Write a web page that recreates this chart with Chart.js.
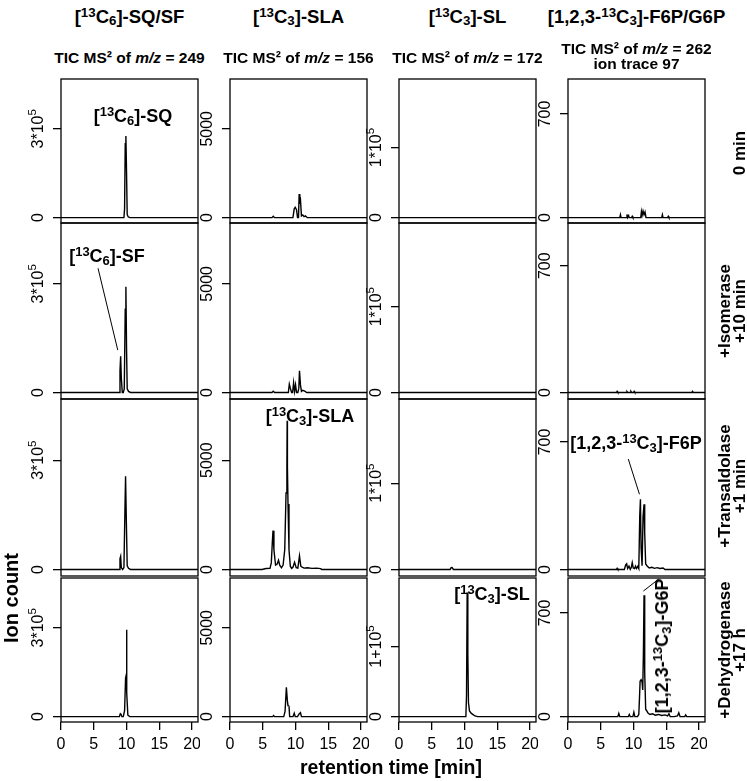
<!DOCTYPE html>
<html>
<head>
<meta charset="utf-8">
<script src="https://cdn.jsdelivr.net/npm/chart.js@4.4.1/dist/chart.umd.min.js"></script>
<style>
body { margin: 0; background: #fff; }
#fig { position: relative; width: 747px; height: 781px; overflow: hidden; font-family: "Liberation Sans", Arial, sans-serif; color: #000; }
#fig canvas { position: absolute; }
.lbl { position: absolute; white-space: nowrap; font-weight: bold; transform: translate(-50%, -50%); line-height: 1; }
.rot { transform: translate(-50%, -50%) rotate(-90deg); text-align: center; }
.lbl sup, .lbl sub { font-size: 72%; line-height: 0; }
.lbl sup { vertical-align: 0.45em; }
.lbl sub { vertical-align: -0.2em; }
</style>
</head>
<body>
<div id="fig"></div>
<script>
// ---- DATA (retention time in min, ion count) ----
const xTicks = [0, 5, 10, 15, 20];
const colTitles = ['[<sup>13</sup>C<sub>6</sub>]-SQ/SF', '[<sup>13</sup>C<sub>3</sub>]-SLA', '[<sup>13</sup>C<sub>3</sub>]-SL', '[1,2,3-<sup>13</sup>C<sub>3</sub>]-F6P/G6P'];
const colSub = ['TIC MS² of <i>m/z</i> = 249', 'TIC MS² of <i>m/z</i> = 156', 'TIC MS² of <i>m/z</i> = 172', 'TIC MS² of <i>m/z</i> = 262<br>ion trace 97'];
const rowLabels = ['0 min', '+Isomerase<br>+10 min', '+Transaldolase<br>+1 min', '+Dehydrogenase<br>+17 h'];
const yMax = [4.5e5, 7500, 1.9e5, 900];
const yTickVal = [3e5, 5000, 1e5, 700];
const yTickText = ['3*10^5', '5000', '1*10^5', '700'];
const yTickTextLast = ['3*10^5', '5000', '1+10^5', '700'];

// column 1: [13C6]-SQ/SF
const t11 = [0, 9.6, 9.7, 9.8, 9.9, 10.0, 10.1, 10.25, 10.5, 20.9];
const i11 = [0, 0, 0.3e5, 2.5e5, 2.76e5, 1.5e5, 0.1e5, 0.03e5, 0, 0];
const t21 = [0, 8.9, 9.0, 9.1, 9.2, 9.35, 9.5, 9.65, 9.8, 9.9, 10.0, 10.1, 10.3, 10.6, 20.9];
const i21 = [0, 0, 0.6e5, 1.0e5, 0.4e5, 0, 0, 0.1e5, 2.3e5, 2.92e5, 1.2e5, 0.1e5, 0.03e5, 0, 0];
const t31 = [0, 8.9, 9.0, 9.1, 9.2, 9.4, 9.6, 9.75, 9.85, 9.95, 10.1, 10.3, 10.6, 20.9];
const i31 = [0, 0, 0.3e5, 0.36e5, 0.05e5, 0, 0.05e5, 1.6e5, 2.56e5, 1.5e5, 0.1e5, 0.03e5, 0, 0];
const t41 = [0, 8.9, 9.05, 9.15, 9.3, 9.5, 9.7, 9.85, 9.95, 10.0, 10.05, 10.2, 10.5, 20.9];
const i41 = [0, 0, 0.1e5, 0.08e5, 0, 0, 0.2e5, 1.3e5, 1.4e5, 2.93e5, 0.8e5, 0.05e5, 0, 0];

// column 2: [13C3]-SLA
const t12 = [0, 6.4, 6.6, 6.8, 9.6, 9.8, 9.95, 10.15, 10.3, 10.45, 10.55, 10.65, 10.75, 10.9, 11.1, 11.3, 11.5, 11.8, 20.9];
const i12 = [0, 0, 80, 0, 0, 500, 580, 450, 0, 0, 1330, 900, 1000, 100, 150, 60, 100, 0, 0];
const t22 = [0, 6.4, 6.6, 6.8, 8.9, 9.05, 9.2, 9.4, 9.55, 9.7, 9.85, 10.0, 10.15, 10.35, 10.5, 10.6, 10.75, 10.9, 11.1, 11.4, 11.7, 20.9];
const i22 = [0, 0, 60, 0, 0, 380, 200, 0, 0, 450, 50, 350, 0, 0, 200, 1000, 350, 50, 100, 60, 0, 0];
const t32 = [0, 4.9, 5.5, 6.1, 6.3, 6.45, 6.56, 6.7, 6.95, 7.2, 7.4, 7.6, 7.85, 8.1, 8.35, 8.55, 8.68, 8.72, 8.76, 8.85, 9.0, 9.2, 9.4, 9.6, 9.85, 10.1, 10.35, 10.6, 10.8, 11.0, 11.3, 11.8, 12.5, 13.2, 13.8, 14.0, 20.9];
const i32 = [0, 0, 40, 50, 300, 1200, 1775, 900, 200, 250, 420, 180, 80, 200, 900, 3500, 4785, 6800, 4700, 3000, 900, 150, 50, 100, 330, 80, 60, 620, 150, 100, 60, 80, 50, 60, 40, 0, 0];
const t42 = [0, 6.5, 6.65, 6.8, 8.2, 8.4, 8.6, 8.75, 8.85, 9.0, 9.1, 9.6, 9.8, 9.95, 10.3, 10.55, 10.75, 10.9, 11.1, 20.9];
const i42 = [0, 0, 60, 0, 0, 300, 1650, 900, 620, 600, 0, 0, 190, 0, 0, 150, 230, 0, 0, 0];

// column 3: [13C3]-SL
const t13 = [0, 20.9];
const i13 = [0, 0];
const t23 = [0, 20.9];
const i23 = [0, 0];
const t33 = [0, 7.8, 7.95, 8.1, 8.3, 20.9];
const i33 = [0, 0, 2000, 2200, 0, 0];
const t43 = [0, 10.2, 10.3, 10.4, 10.5, 10.6, 10.75, 11.0, 11.3, 11.6, 12.0, 20.9];
const i43 = [0, 0, 0.3e5, 1.77e5, 0.9e5, 0.2e5, 0.08e5, 0.05e5, 0.03e5, 0.01e5, 0, 0];

// column 4: [1,2,3-13C3]-F6P/G6P
const t14 = [0, 7.9, 8.0, 8.1, 8.9, 9.0, 9.1, 9.25, 9.35, 9.7, 9.8, 9.9, 11.1, 11.2, 11.3, 11.45, 11.6, 11.75, 11.9, 14.3, 14.4, 14.5, 15.2, 15.3, 15.4, 20.9];
const i14 = [0, 0, 20, 0, 0, 22, 0, 14, 0, 0, 9, 0, 0, 40, 15, 45, 20, 38, 0, 0, 20, 0, 0, 9, 0, 0];
const t24 = [0, 7.4, 7.5, 7.6, 8.9, 9.0, 9.1, 9.5, 9.6, 9.7, 10.0, 10.1, 10.2, 18.9, 19.0, 19.1, 20.9];
const i24 = [0, 0, 6, 0, 0, 5, 0, 0, 6, 0, 0, 6, 0, 0, 6, 0, 0];
const t34 = [0, 7.4, 7.5, 7.6, 8.6, 8.8, 8.95, 9.1, 9.3, 9.5, 9.65, 9.8, 9.95, 10.15, 10.3, 10.45, 10.65, 10.8, 10.95, 11.05, 11.15, 11.3, 11.45, 11.6, 11.7, 11.85, 12.1, 12.4, 12.8, 13.2, 13.6, 14.0, 14.5, 14.8, 20.9];
const i34 = [0, 0, 6, 0, 0, 25, 31, 5, 18, 0, 10, 37, 8, 5, 18, 5, 17, 5, 300, 386, 120, 20, 290, 358, 200, 30, 18, 8, 12, 6, 10, 5, 8, 0, 0];
const t44 = [0, 7.6, 7.75, 7.9, 9.2, 9.35, 9.5, 9.9, 10.05, 10.2, 10.6, 10.8, 10.9, 11.0, 11.15, 11.3, 11.4, 11.5, 11.6, 11.7, 11.85, 12.0, 12.2, 12.5, 12.9, 13.3, 13.8, 14.3, 14.8, 15.2, 15.4, 15.6, 16.2, 16.7, 16.9, 17.1, 17.8, 17.95, 18.1, 20.9];
const i44 = [0, 0, 22, 0, 0, 15, 0, 0, 30, 0, 0, 15, 120, 240, 250, 235, 180, 420, 819, 300, 50, 40, 25, 15, 20, 10, 15, 8, 12, 5, 20, 0, 0, 5, 26, 0, 0, 12, 0, 0];

const series = [
  [[t11, i11], [t12, i12], [t13, i13], [t14, i14]],
  [[t21, i21], [t22, i22], [t23, i23], [t24, i24]],
  [[t31, i31], [t32, i32], [t33, i33], [t34, i34]],
  [[t41, i41], [t42, i42], [t43, i43], [t44, i44]]
];

// pointer lines from labels to peaks (time, count -> time, count)
const leaders = {
  '1-0': [[5.65, 3.43e5, 8.66, 1.17e5]],
  '2-3': [[9.2, 606, 10.9, 413]],
  '3-3': [[11.5, 848, 13.85, 929]]
};

// ---- LAYOUT ----
const colLeft = [61, 230, 399, 568];
const panelW = 137;
const rowTop = [79, 223, 399, 578];
const rowBot = [223, 399, 576, 722];
const fig = document.getElementById('fig');

const deco = {
  id: 'deco',
  afterDraw(chart, args, o) {
    const { ctx, chartArea: a, scales } = chart;
    ctx.save();
    ctx.strokeStyle = '#000';
    ctx.lineWidth = 1.3;
    ctx.strokeRect(a.left, a.top, a.right - a.left, a.bottom - a.top);
    ctx.fillStyle = '#000';
    // y tick labels, rotated
    o.yLabels.forEach(([val, txt]) => {
      const [main, sup] = txt.split('^');
      const y = scales.y.getPixelForValue(val);
      ctx.save();
      ctx.translate(a.left - 22, y);
      ctx.rotate(-Math.PI / 2);
      ctx.textBaseline = 'middle';
      ctx.textAlign = 'left';
      ctx.font = '16px "Liberation Sans", Arial';
      const wm = ctx.measureText(main).width;
      ctx.font = '11.5px "Liberation Sans", Arial';
      const ws = sup ? ctx.measureText(sup).width : 0;
      const x0 = -(wm + ws) / 2;
      ctx.font = '16px "Liberation Sans", Arial';
      ctx.fillText(main, x0, 0);
      if (sup) {
        ctx.font = '11.5px "Liberation Sans", Arial';
        ctx.fillText(sup, x0 + wm, -6);
      }
      ctx.restore();
    });
    // x tick labels
    if (o.xLabels) {
      ctx.font = '16px "Liberation Sans", Arial';
      ctx.textAlign = 'center';
      ctx.textBaseline = 'middle';
      xTicks.forEach(v => ctx.fillText(String(v), scales.x.getPixelForValue(v), a.bottom + 23));
    }
    // leader lines
    ctx.lineWidth = 1;
    (o.leaders || []).forEach(([x0, y0, x1, y1]) => {
      ctx.beginPath();
      ctx.moveTo(scales.x.getPixelForValue(x0), scales.y.getPixelForValue(y0));
      ctx.lineTo(scales.x.getPixelForValue(x1), scales.y.getPixelForValue(y1));
      ctx.stroke();
    });
    ctx.restore();
  }
};

function makePanel(r, c) {
  const [t, v] = series[r][c];
  const last = r === 3;
  const w = 40 + panelW + 2;
  const h = rowBot[r] - rowTop[r] + 1 + (last ? 35 : 1);
  const cv = document.createElement('canvas');
  cv.width = w; cv.height = h;
  cv.style.left = (colLeft[c] - 40) + 'px';
  cv.style.top = (rowTop[r] - 1) + 'px';
  cv.style.width = w + 'px';
  cv.style.height = h + 'px';
  fig.appendChild(cv);
  const ym = yMax[c];
  const tickTxt = last ? yTickTextLast[c] : yTickText[c];
  new Chart(cv, {
    type: 'line',
    data: {
      datasets: [{
        data: t.map((x, k) => ({ x: x, y: v[k] })),
        borderColor: '#000',
        borderWidth: 1.4,
        pointRadius: 0,
        tension: 0
      }]
    },
    options: {
      responsive: false,
      maintainAspectRatio: false,
      animation: false,
      devicePixelRatio: 1,
      layout: { padding: { top: 1, right: 2, bottom: last ? 0 : 1, left: 0 } },
      plugins: {
        legend: { display: false },
        tooltip: { enabled: false },
        deco: {
          yLabels: [[0, '0'], [yTickVal[c], tickTxt]],
          xLabels: last,
          leaders: leaders[r + '-' + c]
        }
      },
      scales: {
        x: {
          type: 'linear', min: 0, max: 20.9, display: last,
          ticks: { display: false },
          afterBuildTicks: s => { s.ticks = xTicks.map(x => ({ value: x })); },
          grid: { drawOnChartArea: false, drawTicks: true, tickLength: 8, color: '#000', lineWidth: 1.3 },
          border: { display: false },
          afterFit: s => { s.height = last ? 35 : 0; s.paddingLeft = 0; s.paddingRight = 0; }
        },
        y: {
          type: 'linear', min: -0.04 * ym, max: 1.04 * ym,
          ticks: { display: false },
          afterBuildTicks: s => { s.ticks = [{ value: 0 }, { value: yTickVal[c] }]; },
          grid: { drawOnChartArea: false, drawTicks: true, tickLength: 8, color: '#000', lineWidth: 1.3 },
          border: { display: false },
          afterFit: s => { s.width = 40; s.paddingTop = 0; s.paddingBottom = 0; }
        }
      }
    },
    plugins: [deco]
  });
}

for (let r = 0; r < 4; r++) for (let c = 0; c < 4; c++) makePanel(r, c);

// ---- TEXT ----
function label(html, x, y, size, cls, extra) {
  const d = document.createElement('div');
  d.className = 'lbl' + (cls ? ' ' + cls : '');
  d.innerHTML = html;
  d.style.left = x + 'px';
  d.style.top = y + 'px';
  d.style.fontSize = size + 'px';
  if (extra) Object.assign(d.style, extra);
  fig.appendChild(d);
}

colTitles.forEach((s, c) => label(s, colLeft[c] + panelW / 2, 17, 18.5));
colSub.forEach((s, c) => label(s, colLeft[c] + panelW / 2, c === 3 ? 56 : 57, 15.5, '', { lineHeight: '15px', textAlign: 'center' }));
const rowMid = [153, 311, 486, 650];
rowLabels.forEach((s, r) => label(s, r === 0 ? 739 : 732, rowMid[r], 17, 'rot', { lineHeight: '15px' }));

label('Ion count', 11, 598, 20, 'rot');
label('retention time [min]', 391, 768, 19.5);

// peak names
label('[<sup>13</sup>C<sub>6</sub>]-SQ', 133, 116, 18);
label('[<sup>13</sup>C<sub>6</sub>]-SF', 107, 256, 18);
label('[<sup>13</sup>C<sub>3</sub>]-SLA', 310, 416, 18);
label('[1,2,3-<sup>13</sup>C<sub>3</sub>]-F6P', 636, 443, 18);
label('[<sup>13</sup>C<sub>3</sub>]-SL', 492, 594, 18);
label('[1,2,3-<sup>13</sup>C<sub>3</sub>]-G6P', 662, 646, 18, 'rot');
</script>
</body>
</html>
